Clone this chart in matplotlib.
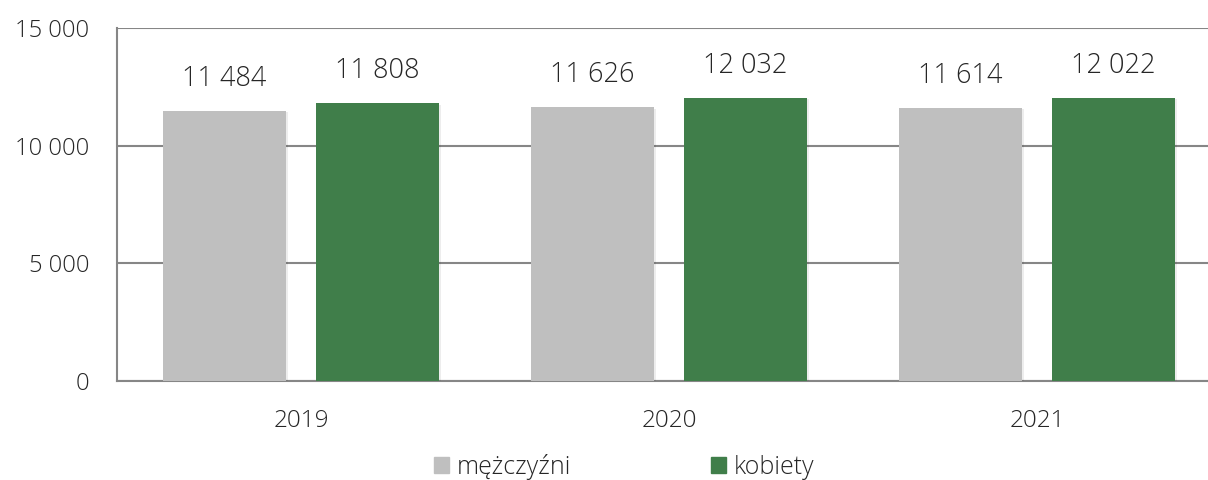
import matplotlib
matplotlib.use("Agg")
import matplotlib.pyplot as plt
import matplotlib.patheffects as pe
from matplotlib.patches import Patch
import numpy as np

years = ["2019", "2020", "2021"]
men = [11484, 11626, 11614]
women = [11808, 12032, 12022]
yticks = [0, 5000, 10000, 15000]

GRAY = "#BFBFBF"
GREEN = "#407E4A"
LINE = "#868686"
TXT = "#262626"

plt.rcParams["font.family"] = ["Open Sans", "DejaVu Sans"]
plt.rcParams["font.weight"] = "light"


def fmt(v):
    return f"{v:,}".replace(",", " ")


fig = plt.figure(figsize=(12.08, 4.8), dpi=100)
ax = fig.add_axes([117 / 1208, 99 / 480, 1104 / 1208, 353 / 480])

x = np.arange(len(years))
w = 0.334
off = 0.208
shadow = [pe.SimplePatchShadow(offset=(1.5, -1), shadow_rgbFace="#000000", alpha=0.07), pe.Normal()]
b1 = ax.bar(x - off, men, w, color=GRAY, zorder=3, path_effects=shadow)
b2 = ax.bar(x + off, women, w, color=GREEN, zorder=3, path_effects=shadow)

for bars, vals in ((b1, men), (b2, women)):
    for rect, v in zip(bars, vals):
        ax.annotate(fmt(v), (rect.get_x() + rect.get_width() / 2, v),
                    xytext=(0, 13), textcoords="offset points",
                    ha="center", va="bottom", fontsize=19.5, color=TXT)

ax.set_xlim(-0.5, 2.5)
ax.set_ylim(0, 15000)
ax.set_yticks(yticks)
ax.set_yticklabels([fmt(v) for v in yticks], fontsize=17, color=TXT)
ax.set_xticks(x)
ax.set_xticklabels(years, fontsize=17.5, color=TXT)
ax.tick_params(axis="y", length=0, pad=20)
ax.tick_params(axis="x", length=0, pad=20)
ax.grid(axis="y", color=LINE, lw=1.5, zorder=0)
for s in ("top", "right"):
    ax.spines[s].set_visible(False)
for s in ("left", "bottom"):
    ax.spines[s].set_color(LINE)
    ax.spines[s].set_linewidth(1.5)

handles = [Patch(color=GRAY, label="mężczyźni"), Patch(color=GREEN, label="kobiety")]
fig.legend(handles=handles, loc="center", bbox_to_anchor=(624 / 1208, 13 / 480),
           ncol=2, frameon=False, fontsize=18, handlelength=0.6, handleheight=0.6,
           handletextpad=0.3, columnspacing=5.6, labelcolor=TXT)

fig.savefig("out.png", dpi=100)
